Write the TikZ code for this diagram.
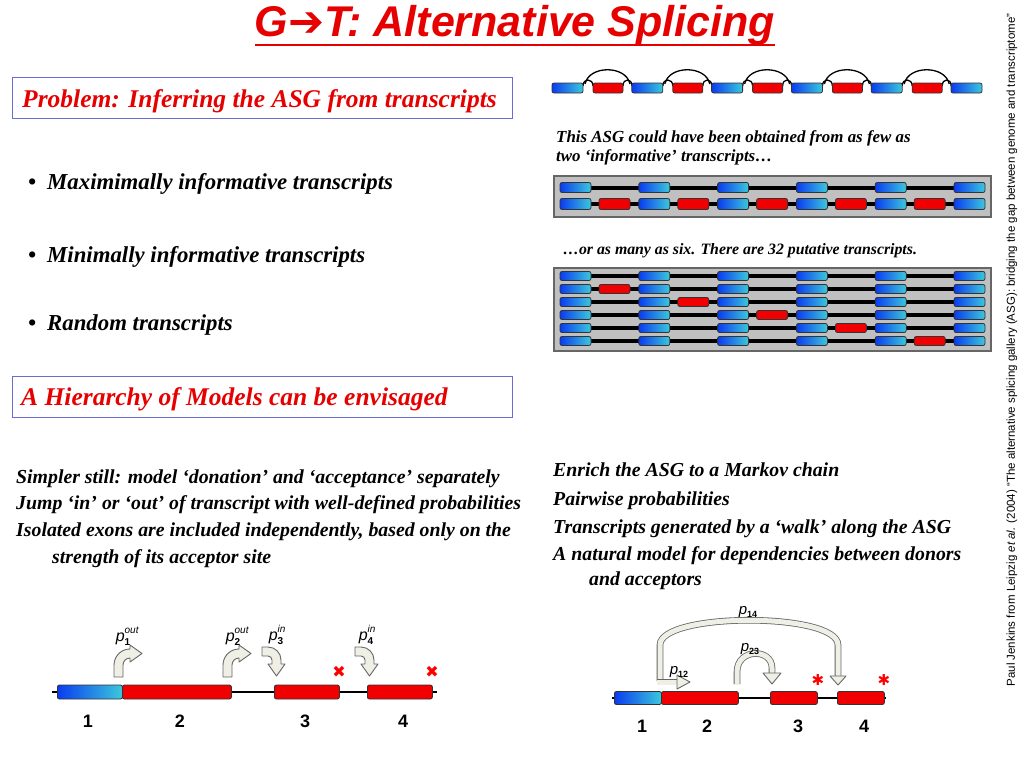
\documentclass[tikz,border=0pt]{standalone}
\usepackage{fontspec}
\setmainfont{Liberation Serif}
\setsansfont{Liberation Sans}
\newfontfamily\symfont{DejaVu Sans}
\usetikzlibrary{arrows.meta, positioning, calc}

\definecolor{TitleRed}{HTML}{E60000}
\definecolor{BoxBlue}{HTML}{6B6BD6}
\definecolor{ExonRed}{HTML}{F00000}
\definecolor{ExonBlueL}{HTML}{0A3CF0}
\definecolor{ExonBlueR}{HTML}{3CC8DC}
\definecolor{PanelGrey}{HTML}{C0C0C0}
\definecolor{ArrowFill}{HTML}{EFEFE6}

\newcommand{\pinout}[2]{\textit{p}\rlap{\raisebox{0.5em}{\fontsize{10}{10}\selectfont\textit{#1}}}\raisebox{-0.25em}{\fontsize{10}{10}\selectfont\textbf{#2}}}
\newcommand{\ppair}[1]{\textit{p}\raisebox{-0.25em}{\fontsize{9}{9}\selectfont\textbf{#1}}}

\tikzset{
  title/.style={font=\fontsize{43}{48}\selectfont\sffamily\bfseries\itshape, text=TitleRed, anchor=base, inner sep=0pt},
  heading/.style={font=\fontsize{25.5}{30}\selectfont\bfseries\itshape, text=TitleRed, anchor=base west, inner sep=0pt},
  bullet/.style={font=\fontsize{22.8}{27}\selectfont\bfseries\itshape, anchor=base west, inner sep=0pt},
  body/.style={font=\fontsize{19.8}{23}\selectfont\bfseries\itshape, anchor=base west, inner sep=0pt},
  caption/.style={font=\fontsize{16.9}{20}\selectfont\bfseries\itshape, anchor=base west, inner sep=0pt},
  side/.style={font=\fontsize{11.5}{13}\selectfont\sffamily, inner sep=0pt},
  hbox/.style={draw=BoxBlue, line width=1.2, anchor=north west, minimum width=500, minimum height=41},
  panel/.style={fill=PanelGrey, draw=black!60, line width=1.5, anchor=north west, minimum width=437},
  bexon/.style={draw=black!80, line width=0.8, rounded corners=2, left color=ExonBlueL, right color=ExonBlueR},
  rexon/.style={draw=black!80, line width=0.8, rounded corners=2, fill=ExonRed},
  intron/.style={line width=4, black},
  skip/.style={line width=1.3, black},
  blockarr/.style={fill=ArrowFill, draw=black!60, line width=0.9, line join=round},
  band/.style={double=ArrowFill, double distance=5, draw=black!60, line width=0.8},
  num/.style={font=\fontsize{18}{22}\selectfont\sffamily\bfseries, anchor=base, inner sep=0pt},
  plab/.style={font=\fontsize{16}{18}\selectfont\sffamily, anchor=base, inner sep=0pt},
  kill/.style={font=\fontsize{16}{16}\selectfont\symfont, text=red, inner sep=0pt},
  outarrow/.pic={
    \draw[blockarr] (0,0) -- (0,-12) arc[start angle=180, end angle=270, radius=16]
      -- (16,-32) -- (28,-23.5) -- (16,-15) -- (16,-19)
      arc[start angle=270, end angle=180, radius=7] -- (9,0) -- cycle;
  },
  inarrow/.pic={
    \draw[blockarr] (0,0) -- (6,0) arc[start angle=-90, end angle=0, radius=13]
      -- (19,17) -- (23,17) -- (14.5,29) -- (6,17) -- (10,17) -- (10,13)
      arc[start angle=0, end angle=-90, radius=4] -- (0,9) -- cycle;
  }
}

\begin{document}
\begin{tikzpicture}[x=1pt, y=-1pt]
  \useasboundingbox (0,0) rectangle (1024,768);

  % Title
  \node[title] (title) at (515,37) {G{\symfont\bfseries\upshape ➔}T: Alternative Splicing};
  \draw[TitleRed, line width=2] ([yshift=-8pt]title.base west) -- ([yshift=-8pt]title.base east);

  % Left column
  \node[hbox] (probbox) at (12,77) {};
  \node[heading] (problem) at (22,107) {Problem: Inferring the ASG from transcripts};
  \foreach \y/\txt [count=\i] in {189/Maximimally informative transcripts,
                                  262/Minimally informative transcripts,
                                  330/Random transcripts} {
    \node[bullet] (dot\i) at (28,\y) {•};
    \node[bullet] (item\i) at (47,\y) {\txt};
  }
  \node[hbox] (hierbox) at (12,376) {};
  \node[heading] (hier) at (21,405) {A Hierarchy of Models can be envisaged};
  \node[body] (simp1) at (16,483) {Simpler still: model ‘donation’ and ‘acceptance’ separately};
  \node[body] (simp2) at (16,509) {Jump ‘in’ or ‘out’ of transcript with well-defined probabilities};
  \node[body] (simp3) at (16,536) {Isolated exons are included independently, based only on the};
  \node[body] (simp4) at (52,563) {strength of its acceptor site};

  % ASG at the top right
  \foreach \k in {0,...,4} {
    \pgfmathsetmacro\bx{583+79.8*\k}
    \pgfmathsetmacro\rx{593+79.8*\k}
    \pgfmathsetmacro\nx{632+79.8*\k}
    \draw[skip] (\bx,86) .. controls (\bx,78) and (\rx,78) .. (\rx,86);
    \draw[skip] (\rx+30,86) .. controls (\rx+30,78) and (\nx,78) .. (\nx,86);
    \draw[skip] (\bx+2,84) .. controls (\bx+6,65) and (\nx-6,65) .. (\nx-2,84);
  }
  \foreach \k in {0,...,5}
    \draw[bexon] ({552+79.8*\k},83) rectangle ++(31,10);
  \foreach \k in {0,...,4}
    \draw[rexon] ({593+79.8*\k},83) rectangle ++(30,10);

  % Two informative transcripts
  \node[caption] (few1) at (556,142) {This ASG could have been obtained from as few as};
  \node[caption] (few2) at (556,161) {two ‘informative’ transcripts…};
  \node[panel, minimum height=41] (twopanel) at (553,175) {};
  \draw[intron] (565,187.5) -- (980,187.5);
  \draw[intron] (565,204) -- (980,204);
  \foreach \k in {0,...,5} {
    \draw[bexon] ({560+78.8*\k},182.5) rectangle ++(31,10);
    \draw[bexon] ({560+78.8*\k},198.5) rectangle ++(31,11);
  }
  \foreach \k in {0,...,4}
    \draw[rexon] ({599+78.8*\k},198.5) rectangle ++(31,11);

  % Six transcripts
  \node[caption, font=\fontsize{15.8}{19}\selectfont\bfseries\itshape] (many) at (563,254) {…or as many as six. There are 32 putative transcripts.};
  \node[panel, minimum height=83] (sixpanel) at (553,267) {};
  \foreach \r in {0,...,5} {
    \draw[intron] (565,{276+13*\r}) -- (980,{276+13*\r});
    \foreach \k in {0,...,5}
      \draw[bexon] ({560+78.8*\k},{271.5+13*\r}) rectangle ++(31,9);
  }
  \foreach \r in {1,...,5}
    \draw[rexon] ({599+78.8*(\r-1)},{271.5+13*\r}) rectangle ++(31,9);

  % Right column text
  \node[body] (mark1) at (553,476) {Enrich the ASG to a Markov chain};
  \node[body] (mark2) at (553,505) {Pairwise probabilities};
  \node[body] (mark3) at (553,533) {Transcripts generated by a ‘walk’ along the ASG};
  \node[body] (mark4) at (553,560) {A natural model for dependencies between donors};
  \node[body] (mark5) at (589,585) {and acceptors};

  % Donor/acceptor model (bottom left)
  \draw[line width=1.5] (52,692) -- (437,692);
  \node[bexon, minimum width=65, minimum height=14, anchor=west] (la1) at (57,692) {};
  \node[rexon, minimum width=109, minimum height=14, anchor=west] (la2) at (122,692) {};
  \node[rexon, minimum width=65, minimum height=14, anchor=west] (la3) at (274,692) {};
  \node[rexon, minimum width=65, minimum height=14, anchor=west] (la4) at (367,692) {};
  \node[num] (ln1) at (88,727) {1};
  \node[num] (ln2) at (180,727) {2};
  \node[num] (ln3) at (305,727) {3};
  \node[num] (ln4) at (403,727) {4};
  \pic at (114,677) {outarrow};
  \pic at (223,677) {outarrow};
  \pic at (262,647) {inarrow};
  \pic at (355,647) {inarrow};
  \node[plab] (pout1) at (123,641) {\pinout{out}{1}};
  \node[plab] (pout2) at (233,641) {\pinout{out}{2}};
  \node[plab] (pin3) at (276,640) {\pinout{in}{3}};
  \node[plab] (pin4) at (366,640) {\pinout{in}{4}};
  \node[kill] (lx3) at (339,672) {✖};
  \node[kill] (lx4) at (432,672) {✖};

  % Markov chain model (bottom right)
  \draw[line width=1.5] (612,698) -- (886,698);
  \node[bexon, minimum width=47, minimum height=13, anchor=west] (ra1) at (614,698) {};
  \node[rexon, minimum width=77, minimum height=13, anchor=west] (ra2) at (661,698) {};
  \node[rexon, minimum width=47, minimum height=13, anchor=west] (ra3) at (770,698) {};
  \node[rexon, minimum width=47, minimum height=13, anchor=west] (ra4) at (837,698) {};
  \node[num] (rn1) at (642,732) {1};
  \node[num] (rn2) at (707,732) {2};
  \node[num] (rn3) at (798,732) {3};
  \node[num] (rn4) at (864,732) {4};
  \draw[band] (660,681) -- (660,645) .. controls (660,612) and (838,612) .. (838,645) -- (838,676);
  \draw[blockarr] (830,676) -- (846,676) -- (838,685) -- cycle;
  \draw[band] (737,684) -- (737,672) .. controls (737,648) and (772,648) .. (772,668) -- (772,673);
  \draw[blockarr] (763,673) -- (781,673) -- (772,684) -- cycle;
  \draw[band] (657,682) -- (677,682);
  \draw[blockarr] (677,675) -- (677,689) -- (690,682) -- cycle;
  \node[plab, font=\fontsize{15}{18}\selectfont\sffamily] (p14) at (748,614) {\ppair{14}};
  \node[plab, font=\fontsize{15}{18}\selectfont\sffamily] (p23) at (750,651) {\ppair{23}};
  \node[plab, font=\fontsize{15}{18}\selectfont\sffamily] (p12) at (679,674) {\ppair{12}};
  \node[kill, font=\fontsize{15}{15}\selectfont\symfont\bfseries] (rx3) at (818,680) {✱};
  \node[kill, font=\fontsize{15}{15}\selectfont\symfont\bfseries] (rx4) at (884,680) {✱};

  % Source
  \node[side, rotate=90] (source) at (1012,350)
    {Paul Jenkins from Leipzig \textit{et al.} (2004) “The alternative splicing gallery (ASG): bridging the gap between genome and transcriptome”};
\end{tikzpicture}
\end{document}
